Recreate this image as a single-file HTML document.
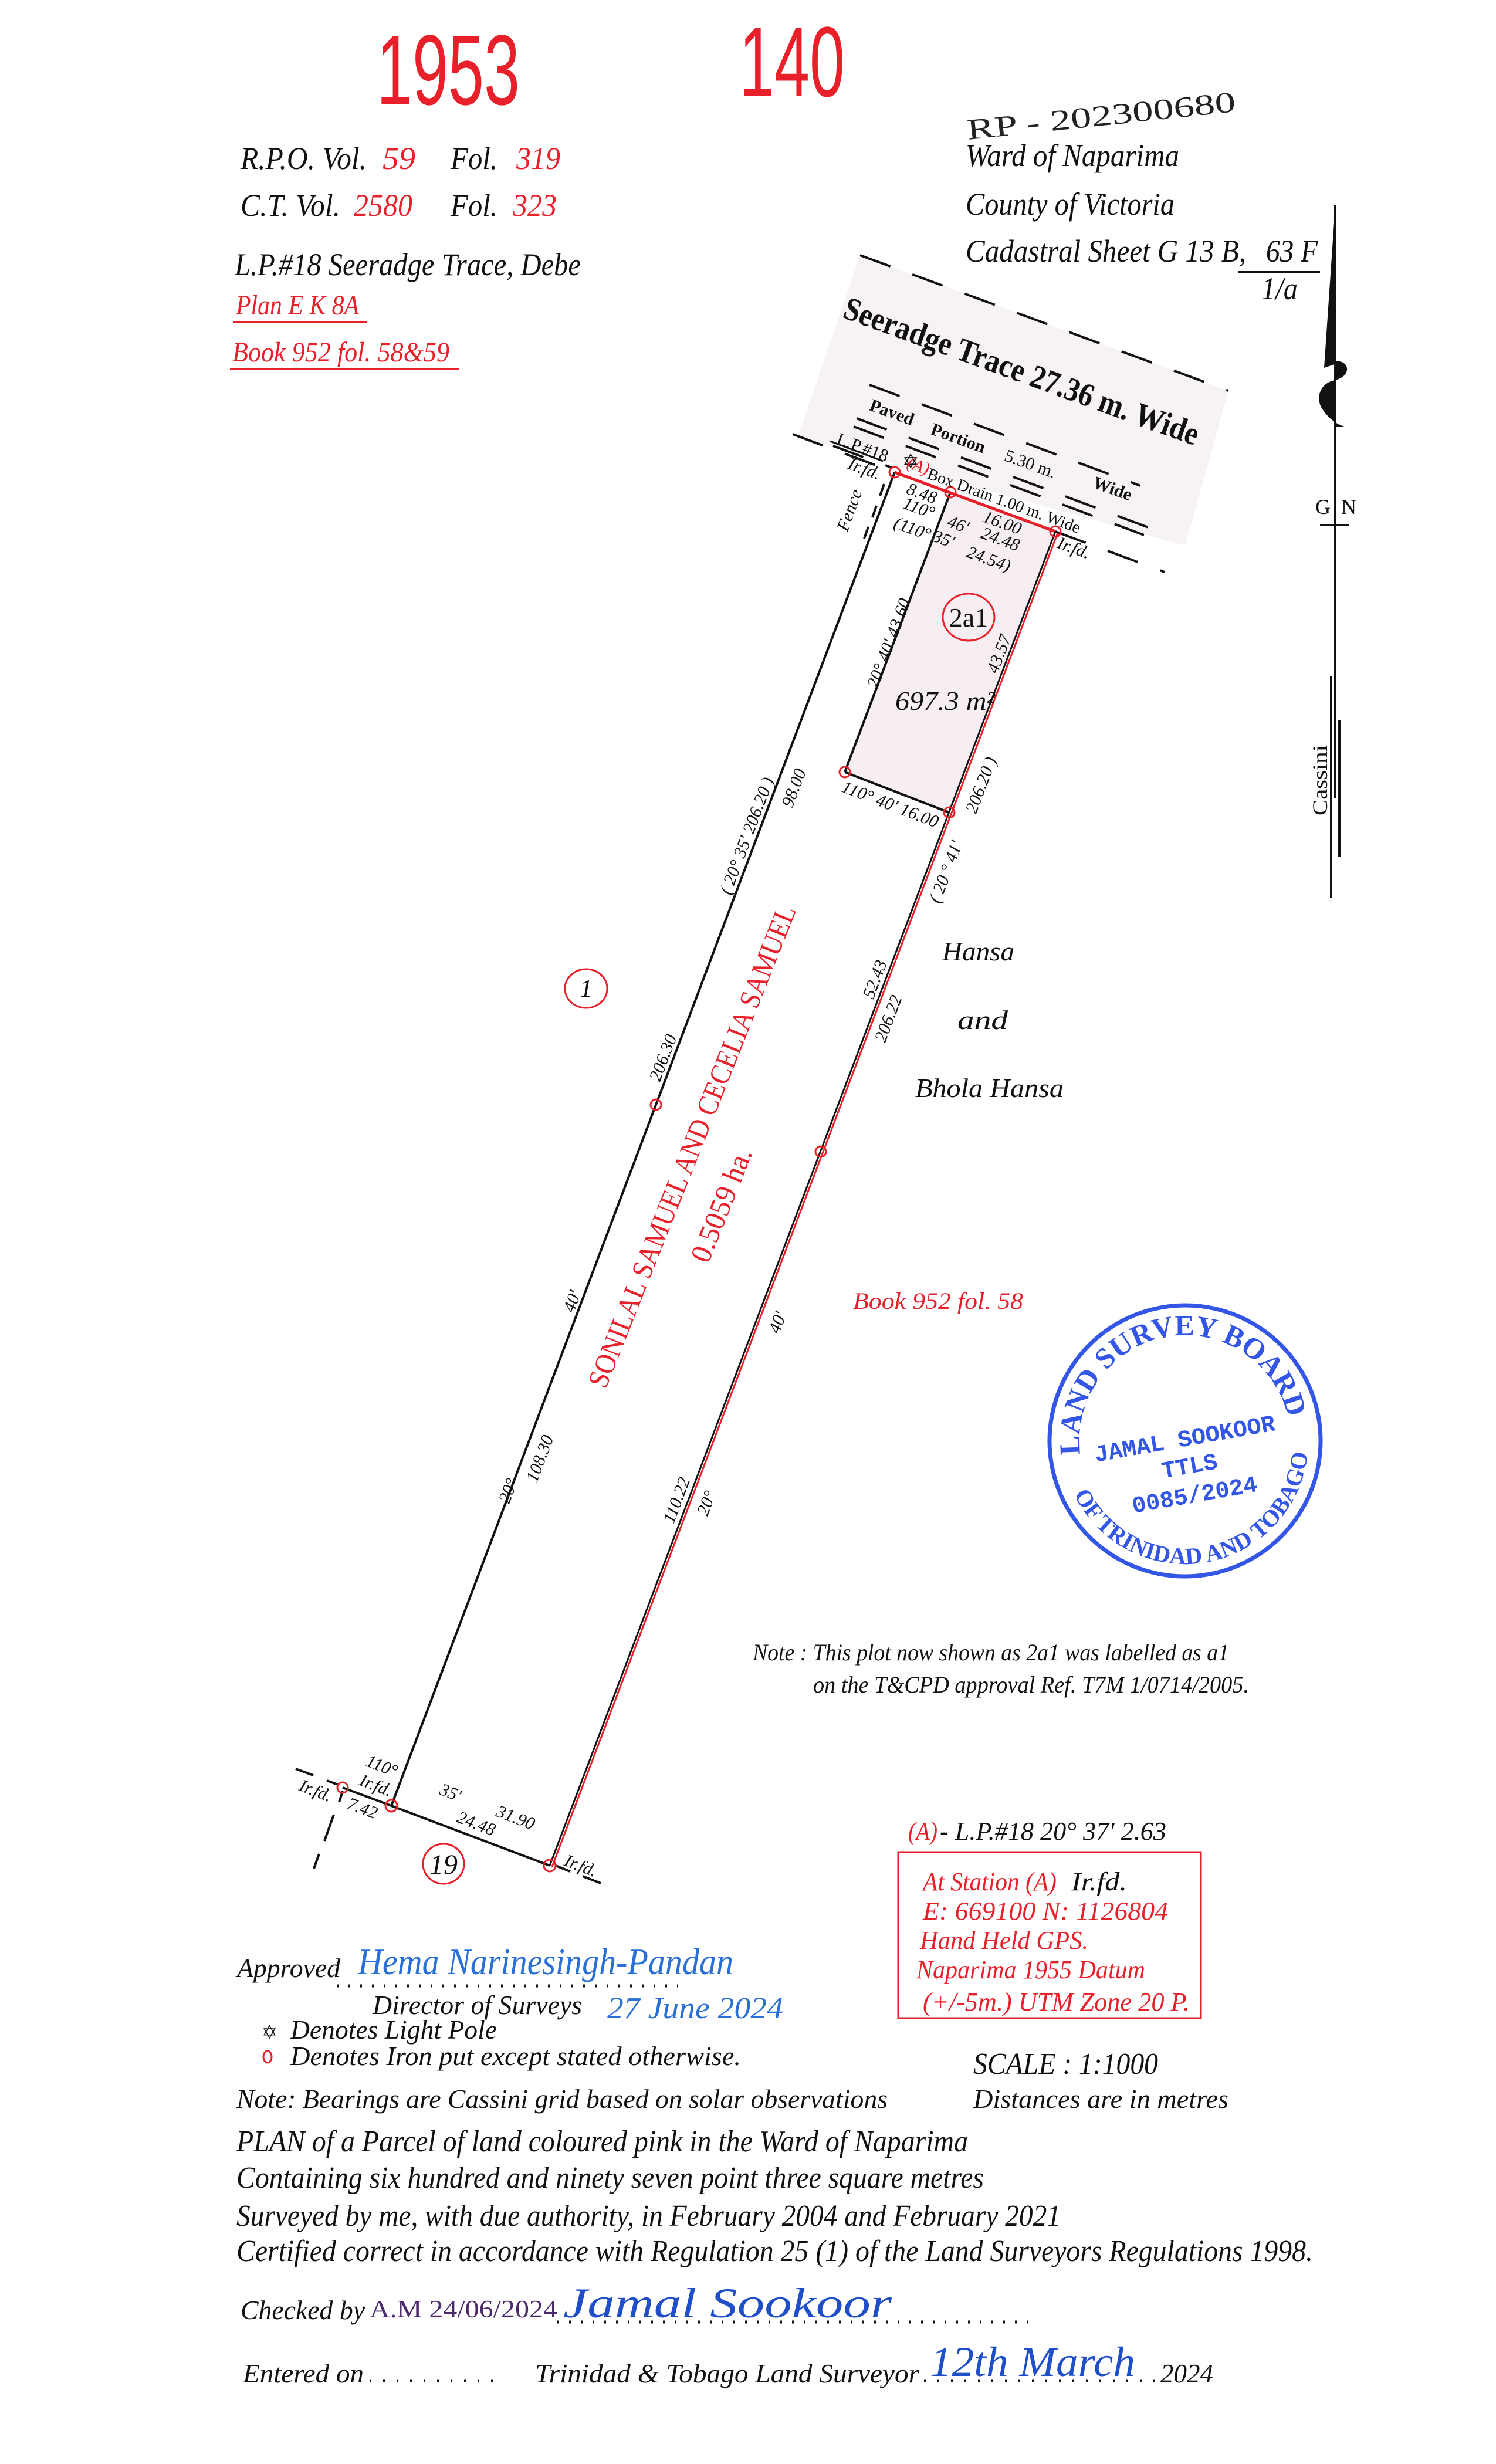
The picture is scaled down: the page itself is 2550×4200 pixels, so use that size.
<!DOCTYPE html>
<html><head><meta charset="utf-8"><style>
html,body{margin:0;padding:0;background:#fff;}
svg{display:block;}
text{font-family:"Liberation Serif",serif;font-style:italic;}
.r{fill:#e8202a;}
.b{fill:#111;}
.n{font-style:normal;}
</style></head><body>
<svg width="2550" height="4200" viewBox="0 0 2550 4200" xmlns="http://www.w3.org/2000/svg">
<rect width="2550" height="4200" fill="#fff"/>

<text x="642" y="178" font-size="170" class="r n" textLength="244" lengthAdjust="spacingAndGlyphs" style="font-family:'Liberation Sans Narrow','Liberation Sans',sans-serif">1953</text>
<text x="1260" y="164" font-size="170" class="r n" textLength="180" lengthAdjust="spacingAndGlyphs" style="font-family:'Liberation Sans Narrow','Liberation Sans',sans-serif">140</text>
<text transform="translate(1650,238) rotate(-6)" font-size="50" fill="#222" class="n" textLength="460" lengthAdjust="spacingAndGlyphs">RP - 202300680</text>

<text x="410" y="288" font-size="54" class="b" textLength="215" lengthAdjust="spacingAndGlyphs">R.P.O. Vol.</text>
<text x="652" y="288" font-size="54" class="r" textLength="56" lengthAdjust="spacingAndGlyphs">59</text>
<text x="768" y="288" font-size="54" class="b" textLength="80" lengthAdjust="spacingAndGlyphs">Fol.</text>
<text x="880" y="288" font-size="54" class="r" textLength="75" lengthAdjust="spacingAndGlyphs">319</text>
<text x="410" y="368" font-size="54" class="b" textLength="170" lengthAdjust="spacingAndGlyphs">C.T. Vol.</text>
<text x="603" y="368" font-size="54" class="r" textLength="100" lengthAdjust="spacingAndGlyphs">2580</text>
<text x="768" y="368" font-size="54" class="b" textLength="80" lengthAdjust="spacingAndGlyphs">Fol.</text>
<text x="874" y="368" font-size="54" class="r" textLength="75" lengthAdjust="spacingAndGlyphs">323</text>
<text x="400" y="469" font-size="54" class="b" textLength="590" lengthAdjust="spacingAndGlyphs">L.P.#18 Seeradge Trace, Debe</text>
<text x="402" y="536" font-size="48" class="r" textLength="210" lengthAdjust="spacingAndGlyphs">Plan E K 8A</text>
<rect x="398" y="548" width="228" height="3" fill="#e8202a"/>
<text x="396" y="616" font-size="48" class="r" textLength="370" lengthAdjust="spacingAndGlyphs">Book 952  fol. 58&amp;59</text>
<rect x="392" y="627" width="390" height="3" fill="#e8202a"/>

<text x="1646" y="283" font-size="54" class="b" textLength="364" lengthAdjust="spacingAndGlyphs">Ward of Naparima</text>
<text x="1646" y="366" font-size="54" class="b" textLength="356" lengthAdjust="spacingAndGlyphs">County of Victoria</text>
<text x="1646" y="446" font-size="54" class="b" textLength="478" lengthAdjust="spacingAndGlyphs">Cadastral Sheet  G 13 B,</text>
<text x="2158" y="446" font-size="54" class="b" textLength="88" lengthAdjust="spacingAndGlyphs">63 F</text>
<rect x="2110" y="462" width="140" height="4" fill="#111"/>
<text x="2150" y="510" font-size="54" class="b" textLength="62" lengthAdjust="spacingAndGlyphs">1/a</text>

<line x1="2276" y1="350" x2="2276" y2="1361" stroke="#111" stroke-width="4"/>
<polygon points="2276,350 2278,620 2257,627" fill="#111"/>
<path d="M2274,616 C2300,612 2306,640 2276,648 C2250,652 2240,680 2256,700 C2266,715 2282,725 2292,727 L2274,727 Z" fill="#111"/>
<text x="2242" y="876" font-size="36" class="n b">G</text>
<text x="2286" y="876" font-size="36" class="n b">N</text>
<rect x="2250" y="893" width="50" height="4" fill="#111"/>
<rect x="2267" y="1153" width="4" height="378" fill="#111"/>
<rect x="2281" y="1228" width="4" height="232" fill="#111"/>
<text transform="translate(2262,1330) rotate(-90)" font-size="36" class="n b" text-anchor="middle" textLength="120" lengthAdjust="spacingAndGlyphs">Cassini</text>

<polygon points="1466,435 2094,666 2020,930 1360,745" fill="#f6f3f2"/>
<g stroke="#111" stroke-width="4" stroke-dasharray="55,40" fill="none">
<line x1="1466" y1="435" x2="2094" y2="666"/>
<line x1="1482" y1="656" x2="1944" y2="828"/>
<line x1="1460" y1="713" x2="1960" y2="900"/>
<line x1="1455" y1="727" x2="1950" y2="912"/>
<line x1="1351" y1="740" x2="1525" y2="805"/>
<line x1="1799" y1="906" x2="1985" y2="975"/>
<line x1="1420" y1="760" x2="1520" y2="797"/>
</g>
<line x1="1415" y1="752" x2="1505" y2="786" stroke="#111" stroke-width="3"/>

<polygon points="1620,839 1799,906 1618,1385 1440,1316" fill="#f6eef3"/>
<line x1="1620" y1="839" x2="1440" y2="1316" stroke="#111" stroke-width="4"/>
<line x1="1440" y1="1316" x2="1618" y2="1385" stroke="#111" stroke-width="4"/>
<line x1="1525" y1="805" x2="667" y2="3078" stroke="#111" stroke-width="4"/>
<line x1="1525" y1="805" x2="1799" y2="906" stroke="#e8202a" stroke-width="5"/>
<line x1="1799" y1="906" x2="937" y2="3180" stroke="#111" stroke-width="3"/>
<line x1="1803" y1="908" x2="941" y2="3182" stroke="#e8202a" stroke-width="3"/>
<line x1="667" y1="3078" x2="937" y2="3180" stroke="#111" stroke-width="4"/>
<line x1="584" y1="3047" x2="667" y2="3078" stroke="#111" stroke-width="4"/>
<g stroke="#111" stroke-width="4">
<line x1="504" y1="3015" x2="534" y2="3026"/>
<line x1="557" y1="3035" x2="576" y2="3042"/>
<line x1="584" y1="3053" x2="578" y2="3072"/>
<line x1="569" y1="3093" x2="553" y2="3138"/>
<line x1="544" y1="3160" x2="535" y2="3185"/>
<line x1="947" y1="3180" x2="972" y2="3190"/>
<line x1="993" y1="3198" x2="1024" y2="3210"/>
<line x1="1507" y1="825" x2="1500" y2="845"/>
<line x1="1494" y1="862" x2="1487" y2="882"/>
<line x1="1480" y1="898" x2="1473" y2="918"/>
</g>
<g fill="none" stroke="#e8202a" stroke-width="3">
<circle cx="1525" cy="805" r="9"/><circle cx="1620" cy="839" r="9"/><circle cx="1799" cy="906" r="9"/>
<circle cx="1440" cy="1316" r="9"/><circle cx="1618" cy="1385" r="9"/>
<circle cx="1118" cy="1883" r="9"/><circle cx="1399" cy="1963" r="9"/>
<circle cx="667" cy="3078" r="10"/><circle cx="937" cy="3180" r="10"/><circle cx="584" cy="3047" r="9"/>
</g>
<text x="1538" y="798" font-size="34" class="n b">✡</text>

<text transform="translate(1735,650) rotate(20)" text-anchor="middle" font-size="56" class="n b" textLength="640" lengthAdjust="spacingAndGlyphs" style="font-style:normal;font-weight:bold">Seeradge  Trace  27.36 m.  Wide</text>
<g font-size="30" class="b">
<text transform="translate(1517,712) rotate(20)" text-anchor="middle" style="font-style:normal;font-weight:bold">Paved</text>
<text transform="translate(1630,756) rotate(20)" text-anchor="middle" style="font-style:normal;font-weight:bold">Portion</text>
<text transform="translate(1753,800) rotate(20)" text-anchor="middle" style="font-style:normal">5.30 m.</text>
<text transform="translate(1893,842) rotate(20)" text-anchor="middle" style="font-style:normal;font-weight:bold">Wide</text>
<text transform="translate(1708,862) rotate(20)" text-anchor="middle" font-size="28" style="font-style:normal">Box  Drain  1.00 m.  Wide</text>
<text transform="translate(1467,772) rotate(20)" text-anchor="middle" style="font-style:normal">L.P.#18</text>
<text transform="translate(1470,808) rotate(20)" text-anchor="middle">Ir.fd.</text>
<text transform="translate(1562,803) rotate(20)" text-anchor="middle" class="r">(A)</text>
<text transform="translate(1457,873) rotate(-70)" text-anchor="middle">Fence</text>
<text transform="translate(1827,943) rotate(20)" text-anchor="middle">Ir.fd.</text>
<text transform="translate(1568,850) rotate(20)" text-anchor="middle">8.48</text>
<text transform="translate(1563,875) rotate(20)" text-anchor="middle">110°</text>
<text transform="translate(1552,910) rotate(20)" text-anchor="middle">(110°</text>
<text transform="translate(1630,903) rotate(20)" text-anchor="middle">46'</text>
<text transform="translate(1605,928) rotate(20)" text-anchor="middle">35'</text>
<text transform="translate(1705,900) rotate(20)" text-anchor="middle">16.00</text>
<text transform="translate(1702,928) rotate(20)" text-anchor="middle">24.48</text>
<text transform="translate(1682,962) rotate(20)" text-anchor="middle">24.54)</text>
</g>

<ellipse cx="1651" cy="1052" rx="44" ry="40" fill="none" stroke="#e8202a" stroke-width="3"/>
<text x="1651" y="1068" font-size="46" class="n b" text-anchor="middle">2a1</text>
<text x="1611" y="1210" font-size="46" class="b" text-anchor="middle" textLength="170" lengthAdjust="spacingAndGlyphs">697.3 m²</text>
<g font-size="30" class="b">
<text transform="translate(1524,1100) rotate(-69.3)" text-anchor="middle">20° 40' 43.60</text>
<text transform="translate(1514,1380) rotate(21)" text-anchor="middle">110° 40' 16.00</text>
<text transform="translate(1712,1118) rotate(-69.3)" text-anchor="middle">43.57</text>
</g>

<g font-size="30" class="n b">
<text transform="translate(1282,1428) rotate(-69.3)" text-anchor="middle">( 20° 35'  206.20 )</text>
<text transform="translate(1353,1343) rotate(-69.3)" text-anchor="middle" dy="10">98.00</text>
<text transform="translate(1130,1803) rotate(-69.3)" text-anchor="middle" dy="10">206.30</text>
<text transform="translate(975,2218) rotate(-69.3)" text-anchor="middle" dy="10">40'</text>
<text transform="translate(920,2486) rotate(-69.3)" text-anchor="middle" dy="10">108.30</text>
<text transform="translate(866,2541) rotate(-69.3)" text-anchor="middle" dy="10">20°</text>
<text transform="translate(1612,1486) rotate(-69.3)" text-anchor="middle" dy="10">( 20 ° 41'</text>
<text transform="translate(1672,1338) rotate(-69.3)" text-anchor="middle" dy="10">206.20 )</text>
<text transform="translate(1491,1669) rotate(-69.3)" text-anchor="middle" dy="10">52.43</text>
<text transform="translate(1514,1736) rotate(-69.3)" text-anchor="middle" dy="10">206.22</text>
<text transform="translate(1325,2254) rotate(-69.3)" text-anchor="middle" dy="10">40'</text>
<text transform="translate(1153,2557) rotate(-69.3)" text-anchor="middle" dy="10">110.22</text>
<text transform="translate(1204,2562) rotate(-69.3)" text-anchor="middle" dy="10">20°</text>
</g>

<text transform="translate(1195,1960) rotate(-68.3)" text-anchor="middle" font-size="50" class="r n" textLength="880" lengthAdjust="spacingAndGlyphs">SONILAL SAMUEL AND CECELIA SAMUEL</text>
<text transform="translate(1245,2060) rotate(-68.3)" text-anchor="middle" font-size="50" class="r n" textLength="205" lengthAdjust="spacingAndGlyphs">0.5059 ha.</text>
<ellipse cx="999" cy="1685" rx="36" ry="33" fill="none" stroke="#e8202a" stroke-width="3"/>
<text x="999" y="1699" font-size="42" class="b" text-anchor="middle">1</text>
<text x="1606" y="1637" font-size="46" class="b" textLength="123" lengthAdjust="spacingAndGlyphs">Hansa</text>
<text x="1632" y="1754" font-size="46" class="b" textLength="86" lengthAdjust="spacingAndGlyphs">and</text>
<text x="1560" y="1870" font-size="46" class="b" textLength="253" lengthAdjust="spacingAndGlyphs">Bhola Hansa</text>
<text x="1454" y="2231" font-size="40" class="r" textLength="290" lengthAdjust="spacingAndGlyphs">Book 952  fol. 58</text>

<defs>
<path id="topArc" d="M1840,2456 A180,180 0 0 1 2200,2456"/>
<path id="botArc" d="M1810,2456 A210,210 0 0 0 2230,2456"/>
</defs>
<g transform="rotate(-10 2020 2456)">
<circle cx="2020" cy="2456" r="231" fill="none" stroke="#3456e6" stroke-width="7"/>
<text font-size="50" style="font-weight:bold;font-style:normal" fill="#3456e6"><textPath href="#topArc" startOffset="50%" text-anchor="middle">LAND SURVEY BOARD</textPath></text>
<text font-size="40" style="font-weight:bold;font-style:normal" fill="#3456e6"><textPath href="#botArc" startOffset="50%" text-anchor="middle">OF TRINIDAD AND TOBAGO</textPath></text>
<text x="2020" y="2465" font-size="40" text-anchor="middle" fill="#3456e6" style="font-family:'Liberation Mono',monospace;font-weight:bold;font-style:normal">JAMAL SOOKOOR</text>
<text x="2020" y="2512" font-size="40" text-anchor="middle" fill="#3456e6" style="font-family:'Liberation Mono',monospace;font-weight:bold;font-style:normal">TTLS</text>
<text x="2020" y="2562" font-size="40" text-anchor="middle" fill="#3456e6" style="font-family:'Liberation Mono',monospace;font-weight:bold;font-style:normal">0085/2024</text>
</g>

<text x="1283" y="2830" font-size="40" class="b" textLength="812" lengthAdjust="spacingAndGlyphs">Note : This plot now shown as 2a1 was labelled as a1</text>
<text x="1386" y="2885" font-size="40" class="b" textLength="743" lengthAdjust="spacingAndGlyphs">on the T&amp;CPD approval  Ref. T7M 1/0714/2005.</text>

<g font-size="30" class="b">
<text transform="translate(651,3010) rotate(21)" text-anchor="middle" dy="10">110°</text>
<text transform="translate(641,3043) rotate(21)" text-anchor="middle" dy="10">Ir.fd.</text>
<text transform="translate(538,3052) rotate(21)" text-anchor="middle" dy="10">Ir.fd.</text>
<text transform="translate(618,3082) rotate(21)" text-anchor="middle" dy="10">7.42</text>
<text transform="translate(768,3055) rotate(21)" text-anchor="middle" dy="10">35'</text>
<text transform="translate(812,3108) rotate(21)" text-anchor="middle" dy="10">24.48</text>
<text transform="translate(879,3098) rotate(21)" text-anchor="middle" dy="10">31.90</text>
<text transform="translate(990,3180) rotate(21)" text-anchor="middle" dy="10">Ir.fd.</text>
</g>
<ellipse cx="756" cy="3177" rx="35" ry="34" fill="none" stroke="#e8202a" stroke-width="3"/>
<text x="756" y="3194" font-size="48" class="b" text-anchor="middle">19</text>

<text x="1548" y="3136" font-size="44" class="r" textLength="50" lengthAdjust="spacingAndGlyphs">(A)</text>
<text x="1602" y="3136" font-size="44" class="b" textLength="386" lengthAdjust="spacingAndGlyphs">- L.P.#18  20° 37'  2.63</text>
<rect x="1531" y="3157" width="516" height="283" fill="none" stroke="#e8202a" stroke-width="3"/>
<text x="1573" y="3222" font-size="44" class="r" textLength="228" lengthAdjust="spacingAndGlyphs">At Station (A)</text>
<text x="1826" y="3222" font-size="44" class="b" textLength="95" lengthAdjust="spacingAndGlyphs">Ir.fd.</text>
<text x="1573" y="3272" font-size="44" class="r" textLength="418" lengthAdjust="spacingAndGlyphs">E: 669100   N: 1126804</text>
<text x="1568" y="3322" font-size="44" class="r" textLength="287" lengthAdjust="spacingAndGlyphs">Hand Held GPS.</text>
<text x="1562" y="3372" font-size="44" class="r" textLength="390" lengthAdjust="spacingAndGlyphs">Naparima 1955 Datum</text>
<text x="1573" y="3427" font-size="44" class="r" textLength="455" lengthAdjust="spacingAndGlyphs">(+/-5m.) UTM  Zone  20 P.</text>

<text x="404" y="3370" font-size="46" class="b" textLength="176" lengthAdjust="spacingAndGlyphs">Approved</text>
<line x1="574" y1="3385" x2="1156" y2="3385" stroke="#111" stroke-width="5" stroke-dasharray="3,17"/>
<text x="610" y="3365" font-size="64" fill="#2a6fd6" textLength="640" lengthAdjust="spacingAndGlyphs">Hema Narinesingh-Pandan</text>
<text x="635" y="3433" font-size="46" class="b" textLength="357" lengthAdjust="spacingAndGlyphs">Director of Surveys</text>
<text x="1035" y="3440" font-size="52" fill="#2a6fd6" textLength="300" lengthAdjust="spacingAndGlyphs">27 June 2024</text>
<text x="446" y="3475" font-size="32" class="n b">✡</text>
<text x="495" y="3475" font-size="46" class="b" textLength="352" lengthAdjust="spacingAndGlyphs">Denotes Light Pole</text>
<ellipse cx="456" cy="3506" rx="7" ry="10" fill="none" stroke="#e8202a" stroke-width="3"/>
<text x="495" y="3520" font-size="46" class="b" textLength="768" lengthAdjust="spacingAndGlyphs">Denotes Iron put except stated otherwise.</text>
<text x="1659" y="3535" font-size="52" class="b" textLength="315" lengthAdjust="spacingAndGlyphs">SCALE : 1:1000</text>
<text x="403" y="3593" font-size="46" class="b" textLength="1110" lengthAdjust="spacingAndGlyphs">Note: Bearings are Cassini grid based on solar observations</text>
<text x="1659" y="3593" font-size="46" class="b" textLength="435" lengthAdjust="spacingAndGlyphs">Distances are in metres</text>
<text x="403" y="3667" font-size="52" class="b" textLength="1247" lengthAdjust="spacingAndGlyphs">PLAN of a Parcel of land coloured pink in the Ward of Naparima</text>
<text x="403" y="3729" font-size="52" class="b" textLength="1274" lengthAdjust="spacingAndGlyphs">Containing six hundred and ninety seven point three square metres</text>
<text x="403" y="3794" font-size="52" class="b" textLength="1405" lengthAdjust="spacingAndGlyphs">Surveyed by me, with due authority, in February 2004 and February 2021</text>
<text x="403" y="3854" font-size="52" class="b" textLength="1835" lengthAdjust="spacingAndGlyphs">Certified correct in accordance with Regulation 25 (1) of the Land Surveyors Regulations 1998.</text>
<text x="410" y="3953" font-size="46" class="b" textLength="212" lengthAdjust="spacingAndGlyphs">Checked by</text>
<text x="630" y="3950" font-size="42" fill="#4a2a6a" class="n" textLength="320" lengthAdjust="spacingAndGlyphs">A.M 24/06/2024</text>
<line x1="950" y1="3958" x2="1755" y2="3958" stroke="#111" stroke-width="5" stroke-dasharray="3,17"/>
<text x="960" y="3950" font-size="72" fill="#1f4fc8" textLength="560" lengthAdjust="spacingAndGlyphs">Jamal Sookoor</text>
<text x="414" y="4061" font-size="46" class="b" textLength="206" lengthAdjust="spacingAndGlyphs">Entered on</text>
<line x1="630" y1="4058" x2="845" y2="4058" stroke="#111" stroke-width="5" stroke-dasharray="3,20"/>
<text x="912" y="4061" font-size="46" class="b" textLength="655" lengthAdjust="spacingAndGlyphs">Trinidad &amp; Tobago  Land Surveyor</text>
<line x1="1575" y1="4058" x2="1975" y2="4058" stroke="#111" stroke-width="5" stroke-dasharray="3,20"/>
<text x="1585" y="4050" font-size="72" fill="#1f4fc8" textLength="350" lengthAdjust="spacingAndGlyphs">12th March</text>
<text x="1978" y="4061" font-size="46" class="b" textLength="90" lengthAdjust="spacingAndGlyphs">2024</text>
</svg>
</body></html>
